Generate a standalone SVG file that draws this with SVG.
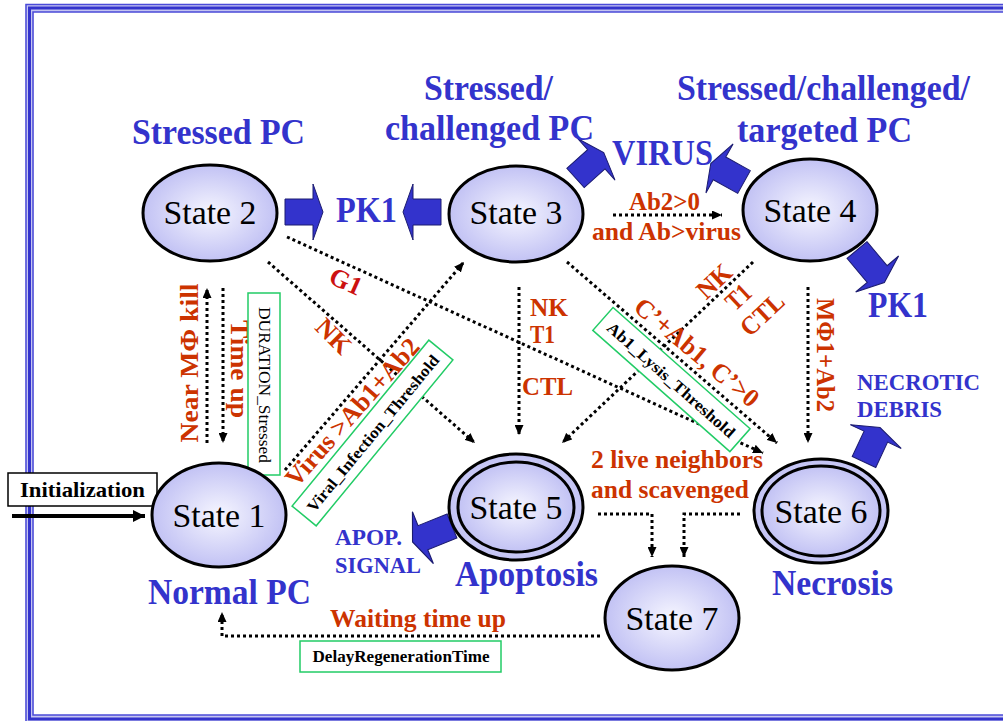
<svg xmlns="http://www.w3.org/2000/svg" xmlns:xlink="http://www.w3.org/1999/xlink" width="1003" height="721" viewBox="0 0 1003 721">
  <style>
    .st { fill: url(#cellFill); stroke: #000; stroke-width: 3; }
    .stx { font-family: "Liberation Serif", "Times New Roman", serif; font-size: 34px; fill: #000; text-anchor: middle; }
    .ttl { font-family: "Liberation Serif", "Times New Roman", serif; font-weight: bold; font-size: 36px; fill: #3333cc; }
    .sml { font-family: "Liberation Serif", "Times New Roman", serif; font-weight: bold; font-size: 24px; fill: #3333cc; }
    .lbl { font-family: "Liberation Serif", "Times New Roman", serif; font-weight: bold; font-size: 26px; fill: #cc3300; }
    .mid { text-anchor: middle; }
    .prm { font-family: "Liberation Serif", "Times New Roman", serif; font-size: 16px; fill: #000; text-anchor: middle; }
    .gbox { fill: #fff; stroke: #22cc66; stroke-width: 1.5; }
    .dot { fill: none; stroke: #000; stroke-width: 3; stroke-dasharray: 3 3; }
    .blk { fill: #3333cc; stroke: #1c1c70; stroke-width: 1; }
  </style>
  <defs>
    <radialGradient id="cellFill" cx="50%" cy="50%" r="50%">
      <stop offset="0" stop-color="#f6f6ff"/>
      <stop offset="1" stop-color="#c2c2f4"/>
    </radialGradient>
    <marker id="tip" viewBox="0 0 10 9" refX="10" refY="4.5" markerWidth="10" markerHeight="9" markerUnits="userSpaceOnUse" orient="auto">
      <path d="M0,0 L10,4.5 L0,9 Z" fill="#000"/>
    </marker>
    <marker id="bigTip" viewBox="0 0 12 12" refX="12" refY="6" markerWidth="12" markerHeight="12" markerUnits="userSpaceOnUse" orient="auto">
      <path d="M0,0 L12,6 L0,12 Z" fill="#000"/>
    </marker>
    <!-- block arrow pointing along +x, base centred at the origin -->
    <path id="blkArrow" d="M0,-13 L28,-13 L28,-28 L38,0 L28,28 L28,13 L0,13 Z"/>
  </defs>

  <rect width="1003" height="721" fill="#fff"/>

  <!-- page frame -->
  <g id="frame" fill="none">
    <rect x="29.5" y="8" width="990" height="711" stroke="#c4c4f0" stroke-width="8"/>
    <rect x="26" y="4.5" width="1000" height="718" stroke="#4a4ad8" stroke-width="1.5"/>
    <rect x="29.5" y="8" width="990" height="711" stroke="#3333cc" stroke-width="3"/>
    <rect x="33" y="12" width="980" height="703" stroke="#4a4ad8" stroke-width="1.5"/>
  </g>

  <!-- transitions -->
  <g id="connectors">
    <path class="dot" d="M287,237 L763,453" marker-end="url(#tip)"/>
    <path class="dot" d="M268,262 L475,443" marker-end="url(#tip)"/>
    <path class="dot" d="M285,470 L464,262" marker-end="url(#tip)"/>
    <path class="dot" d="M207,443 L207,288" marker-end="url(#tip)"/>
    <path class="dot" d="M223,288 L223,443" marker-end="url(#tip)"/>
    <path class="dot" d="M519,287 L519,435" marker-end="url(#tip)"/>
    <path class="dot" d="M567,262 L777,443" marker-end="url(#tip)"/>
    <path class="dot" d="M753,262 L562,443" marker-end="url(#tip)"/>
    <path class="dot" d="M808,287 L808,443" marker-end="url(#tip)"/>
    <path class="dot" d="M613,215 L722,215" marker-end="url(#tip)"/>
    <path class="dot" d="M598,514 L652,514 L652,557" marker-end="url(#tip)"/>
    <path class="dot" d="M740,514 L684,514 L684,557" marker-end="url(#tip)"/>
    <path class="dot" d="M600,636 L222,636 L222,612" marker-end="url(#tip)"/>
    <path d="M12,516 L145,516" stroke="#000" stroke-width="4" fill="none" marker-end="url(#bigTip)"/>

    <!-- output block arrows -->
    <use href="#blkArrow" class="blk" transform="translate(285,212)"/>
    <use href="#blkArrow" class="blk" transform="translate(441,212) rotate(180)"/>
    <use href="#blkArrow" class="blk" transform="translate(575.5,178) rotate(-42)"/>
    <use href="#blkArrow" class="blk" transform="translate(744,182) rotate(-151)"/>
    <use href="#blkArrow" class="blk" transform="translate(857,250) rotate(50) scale(1.12,1)"/>
    <use href="#blkArrow" class="blk" transform="translate(864,462) rotate(-65)"/>
    <use href="#blkArrow" class="blk" transform="translate(452,526) rotate(158) scale(1.12,1)"/>
  </g>

  <!-- transition labels -->
  <g id="labels">
    <text class="lbl" x="629" y="210" font-size="24" textLength="71" lengthAdjust="spacingAndGlyphs">Ab2&gt;0</text>
    <text class="lbl" x="592" y="240" font-size="24" textLength="149" lengthAdjust="spacingAndGlyphs">and Ab&gt;virus</text>
    <text class="lbl mid" transform="translate(346,281) rotate(24)" y="9" style="fill:#cc1111">G1</text>
    <text class="lbl mid" transform="translate(334,336) rotate(45)" y="9">NK</text>
    <text class="lbl mid" transform="translate(198,363) rotate(-90)" textLength="159" lengthAdjust="spacingAndGlyphs">Near MΦ kill</text>
    <text class="lbl mid" transform="translate(231,369) rotate(90)" textLength="98" lengthAdjust="spacingAndGlyphs">Time up</text>
    <text class="lbl mid" transform="translate(352,412) rotate(-48.5)" y="9" font-size="25" textLength="188" lengthAdjust="spacingAndGlyphs">Virus &gt;Ab1+Ab2</text>
    <text class="lbl" x="530" y="316" font-size="23" textLength="38" lengthAdjust="spacingAndGlyphs">NK</text>
    <text class="lbl" x="530" y="343" font-size="23" textLength="25" lengthAdjust="spacingAndGlyphs">T1</text>
    <text class="lbl" x="522" y="395" textLength="51" lengthAdjust="spacingAndGlyphs">CTL</text>
    <text class="lbl mid" transform="translate(697,352) rotate(40)" y="9" font-size="25" textLength="154" lengthAdjust="spacingAndGlyphs">C’+Ab1, C’&gt;0</text>
    <text class="lbl mid" transform="translate(714,281) rotate(-43)" y="9" font-size="24" textLength="38" lengthAdjust="spacingAndGlyphs">NK</text>
    <text class="lbl mid" transform="translate(738,297) rotate(-43)" y="9" font-size="24" textLength="25" lengthAdjust="spacingAndGlyphs">T1</text>
    <text class="lbl mid" transform="translate(762,314) rotate(-43)" y="9" font-size="24" textLength="50" lengthAdjust="spacingAndGlyphs">CTL</text>
    <text class="lbl mid" transform="translate(817,355) rotate(90)" font-size="25" textLength="114" lengthAdjust="spacingAndGlyphs">MΦ1+Ab2</text>
    <text class="lbl" x="591" y="468" textLength="172" lengthAdjust="spacingAndGlyphs">2 live neighbors</text>
    <text class="lbl" x="591" y="498" textLength="158" lengthAdjust="spacingAndGlyphs">and scavenged</text>
    <text class="lbl" x="330" y="627" font-size="25" textLength="176" lengthAdjust="spacingAndGlyphs">Waiting time up</text>
  </g>

  <!-- parameter boxes -->
  <g id="param-duration">
    <rect class="gbox" x="248" y="293" width="32" height="182"/>
    <text class="prm" transform="translate(259,385) rotate(90)" textLength="156" lengthAdjust="spacingAndGlyphs">DURATION_Stressed</text>
  </g>
  <g id="param-viral" transform="translate(372.5,433) rotate(-50.5)">
    <rect class="gbox" x="-107.5" y="-15.6" width="215" height="31.2"/>
    <text class="prm" y="6" font-weight="bold" textLength="198" lengthAdjust="spacingAndGlyphs">Viral_Infection_Threshold</text>
  </g>
  <g id="param-lysis" transform="translate(671.5,379.5) rotate(41.5)">
    <rect class="gbox" x="-91.5" y="-15.2" width="183" height="30.5"/>
    <text class="prm" y="6" font-weight="bold" textLength="165" lengthAdjust="spacingAndGlyphs">Ab1_Lysis_Threshold</text>
  </g>
  <g id="param-delay">
    <rect class="gbox" x="300" y="641" width="201" height="31"/>
    <text class="prm" x="401" y="662" font-weight="bold" textLength="177" lengthAdjust="spacingAndGlyphs">DelayRegenerationTime</text>
  </g>

  <!-- start marker -->
  <g id="init">
    <rect x="8" y="473" width="149" height="33" fill="#fff" stroke="#000" stroke-width="1.5"/>
    <text x="82.5" y="497" font-family="Liberation Serif, Times New Roman, serif" font-weight="bold" font-size="21" text-anchor="middle" textLength="125" lengthAdjust="spacingAndGlyphs">Initialization</text>
  </g>

  <!-- states -->
  <g id="state1">
    <ellipse class="st" cx="219" cy="515" rx="67" ry="52"/>
    <text class="stx" x="219" y="527" textLength="93" lengthAdjust="spacingAndGlyphs">State 1</text>
    <text class="ttl" x="148" y="604" font-size="36" textLength="163" lengthAdjust="spacingAndGlyphs">Normal PC</text>
  </g>
  <g id="state2">
    <ellipse class="st" cx="210" cy="213" rx="67" ry="48"/>
    <text class="stx" x="210" y="224" textLength="93" lengthAdjust="spacingAndGlyphs">State 2</text>
    <text class="ttl" x="132" y="144" textLength="173" lengthAdjust="spacingAndGlyphs">Stressed PC</text>
    <text class="ttl" x="336" y="222" textLength="61" lengthAdjust="spacingAndGlyphs">PK1</text>
  </g>
  <g id="state3">
    <ellipse class="st" cx="516" cy="214" rx="67" ry="48"/>
    <text class="stx" x="516" y="224" textLength="93" lengthAdjust="spacingAndGlyphs">State 3</text>
    <text class="ttl" x="424" y="100" textLength="129" lengthAdjust="spacingAndGlyphs">Stressed/</text>
    <text class="ttl" x="385" y="140" textLength="209" lengthAdjust="spacingAndGlyphs">challenged PC</text>
    <text class="ttl" x="612" y="165" textLength="101" lengthAdjust="spacingAndGlyphs">VIRUS</text>
  </g>
  <g id="state4">
    <ellipse class="st" cx="810" cy="210" rx="67" ry="51"/>
    <text class="stx" x="810" y="222" textLength="93" lengthAdjust="spacingAndGlyphs">State 4</text>
    <text class="ttl" x="677" y="100" textLength="293" lengthAdjust="spacingAndGlyphs">Stressed/challenged/</text>
    <text class="ttl" x="737" y="142" textLength="175" lengthAdjust="spacingAndGlyphs">targeted PC</text>
    <text class="ttl" x="868" y="317" textLength="60" lengthAdjust="spacingAndGlyphs">PK1</text>
  </g>
  <g id="state5">
    <ellipse class="st" cx="516" cy="507" rx="67" ry="53"/>
    <ellipse class="st" cx="516" cy="507" rx="58" ry="45"/>
    <text class="stx" x="516" y="519" textLength="93" lengthAdjust="spacingAndGlyphs">State 5</text>
    <text class="ttl" x="455" y="586" textLength="143" lengthAdjust="spacingAndGlyphs">Apoptosis</text>
    <text class="sml" x="335" y="545" font-size="22" textLength="67" lengthAdjust="spacingAndGlyphs">APOP.</text>
    <text class="sml" x="335" y="573" font-size="22" textLength="86" lengthAdjust="spacingAndGlyphs">SIGNAL</text>
  </g>
  <g id="state6">
    <ellipse class="st" cx="821" cy="511" rx="67" ry="52"/>
    <ellipse class="st" cx="821" cy="511" rx="59" ry="45"/>
    <text class="stx" x="821" y="523" textLength="93" lengthAdjust="spacingAndGlyphs">State 6</text>
    <text class="ttl" x="772" y="595" textLength="121" lengthAdjust="spacingAndGlyphs">Necrosis</text>
    <text class="sml" x="857" y="390" textLength="123" lengthAdjust="spacingAndGlyphs">NECROTIC</text>
    <text class="sml" x="857" y="417" textLength="85" lengthAdjust="spacingAndGlyphs">DEBRIS</text>
  </g>
  <g id="state7">
    <ellipse class="st" cx="672" cy="618" rx="67" ry="52"/>
    <text class="stx" x="672" y="630" textLength="93" lengthAdjust="spacingAndGlyphs">State 7</text>
  </g>
</svg>
